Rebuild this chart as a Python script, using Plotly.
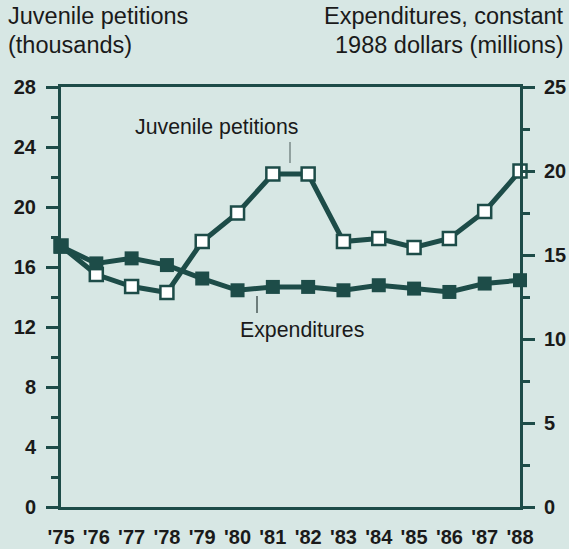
import plotly.graph_objects as go

years = [1975, 1976, 1977, 1978, 1979, 1980, 1981, 1982, 1983, 1984, 1985, 1986, 1987, 1988]
year_labels = ["'75", "'76", "'77", "'78", "'79", "'80", "'81", "'82", "'83", "'84", "'85", "'86", "'87", "'88"]
petitions = [17.4, 15.5, 14.7, 14.3, 17.7, 19.6, 22.2, 22.2, 17.7, 17.9, 17.3, 17.9, 19.7, 22.4]
expenditures = [15.5, 14.5, 14.8, 14.4, 13.6, 12.9, 13.1, 13.1, 12.9, 13.2, 13.0, 12.8, 13.3, 13.5]
left_ticks = [0, 4, 8, 12, 16, 20, 24, 28]
right_ticks = [0, 5, 10, 15, 20, 25]

BG = "#d7e7e4"
INK = "#1d4c48"
TXT = "#1a1a1a"
FONT = "Liberation Sans, Arial, Helvetica, sans-serif"

W, H = 569, 549
L, R, T, B = 61, 520, 87, 507


def px(x):
    return (x - L) / (R - L)


def py(y):
    return (B - y) / (B - T)


fig = go.Figure()
fig.add_trace(go.Scatter(
    x=years, y=petitions, mode="lines+markers", name="Juvenile petitions",
    line=dict(color=INK, width=5),
    marker=dict(symbol="square", size=13, color="white", line=dict(color=INK, width=2.5)),
    cliponaxis=False, yaxis="y",
))
fig.add_trace(go.Scatter(
    x=years, y=expenditures, mode="lines+markers", name="Expenditures",
    line=dict(color=INK, width=5),
    marker=dict(symbol="square", size=14, color=INK, line=dict(color=INK, width=0)),
    cliponaxis=False, yaxis="y2",
))

tickfont = dict(family=FONT, size=20, color=TXT, weight="bold")

fig.update_layout(
    width=W, height=H,
    margin=dict(l=L, r=W - R, t=T, b=H - B, autoexpand=False),
    paper_bgcolor=BG, plot_bgcolor=BG,
    showlegend=False,
    xaxis=dict(
        range=[years[0], years[-1]], tickvals=years, ticktext=year_labels,
        showgrid=False, zeroline=False, showline=True, mirror=True,
        linecolor=INK, linewidth=3, ticks="", tickfont=tickfont,
        ticklabelstandoff=10,
    ),
    yaxis=dict(
        range=[0, 28], tickvals=left_ticks, showgrid=False, zeroline=False,
        showline=True, linecolor=INK, linewidth=3,
        ticks="outside", ticklen=12, tickwidth=3, tickcolor=INK,
        minor=dict(ticks="outside", ticklen=7, tickwidth=2.5, tickcolor=INK, dtick=2, tick0=0),
        tickfont=tickfont, ticklabelstandoff=6,
    ),
    yaxis2=dict(
        range=[0, 25], tickvals=right_ticks, overlaying="y", side="right",
        showgrid=False, zeroline=False, showline=True, linecolor=INK, linewidth=3,
        ticks="outside", ticklen=12, tickwidth=3, tickcolor=INK,
        minor=dict(ticks="outside", ticklen=7, tickwidth=2.5, tickcolor=INK, dtick=2.5, tick0=0),
        tickfont=tickfont, ticklabelstandoff=5,
    ),
)

title_font = dict(family=FONT, size=23.5, color=TXT)
label_font = dict(family=FONT, size=21.3, color=TXT)

annots = [
    dict(text="Juvenile petitions", x=px(6), y=py(16), xanchor="left", font=title_font),
    dict(text="(thousands)", x=px(6), y=py(45), xanchor="left", font=title_font),
    dict(text="Expenditures, constant", x=px(566), y=py(16), xanchor="right", font=title_font),
    dict(text="1988 dollars (millions)", x=px(566), y=py(45), xanchor="right", font=title_font),
    dict(text="Juvenile petitions", x=px(216), y=py(127), xanchor="center", font=label_font),
    dict(text="Expenditures", x=px(302), y=py(330), xanchor="center", font=label_font),
]
for a in annots:
    fig.add_annotation(xref="paper", yref="paper", yanchor="middle", showarrow=False, **a)

# leader lines for the labels
fig.add_shape(type="line", xref="paper", yref="paper", x0=px(290), x1=px(290), y0=py(142), y1=py(163),
              line=dict(color="#7a8a88", width=1.5))
fig.add_shape(type="line", xref="paper", yref="paper", x0=px(257), x1=px(257), y0=py(296), y1=py(313),
              line=dict(color="#4a5a58", width=1.5))

fig.write_html(
    "out.html",
    config={"displayModeBar": False},
    post_script="document.body.style.margin='0';document.body.style.background='%s';" % BG,
)
